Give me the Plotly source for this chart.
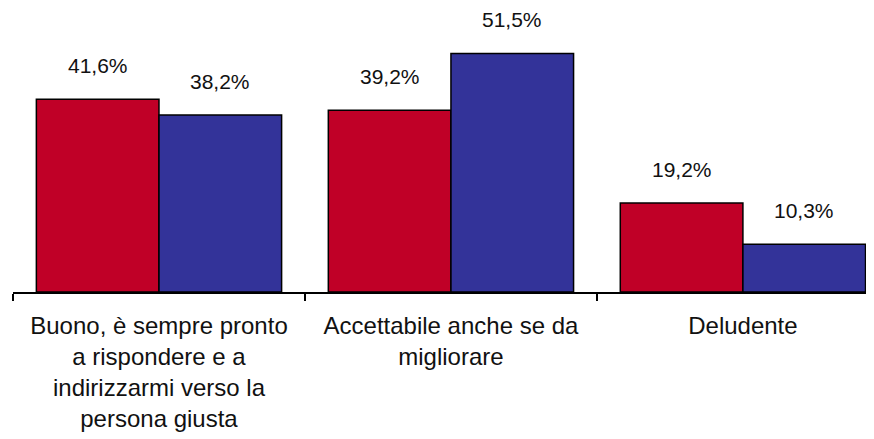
import plotly.graph_objects as go

categories = [
    "Buono, è sempre pronto<br>a rispondere e a<br>indirizzarmi verso la<br>persona giusta",
    "Accettabile anche se da<br>migliorare",
    "Deludente",
]
series_a = [41.6, 39.2, 19.2]
series_b = [38.2, 51.5, 10.3]

RED = "#C00027"
BLUE = "#333399"
FONT = "Liberation Sans, Arial, sans-serif"


def pct(v):
    return f"{v:.1f}%".replace(".", ",")


fig = go.Figure()
for vals, color in ((series_a, RED), (series_b, BLUE)):
    fig.add_trace(go.Bar(
        x=categories, y=vals, marker=dict(color=color, line=dict(color="black", width=1.5)),
        hoverinfo="skip",
    ))

for i, cat in enumerate(categories):
    for vals, shift in ((series_a, -61), (series_b, 61)):
        fig.add_annotation(
            x=cat, y=vals[i], text=pct(vals[i]), showarrow=False,
            xshift=shift, yshift=20, yanchor="bottom",
            font=dict(family=FONT, size=21, color="#111111"),
        )

# page body keeps an 8px default margin, so the figure is drawn 8px smaller
fig.update_layout(
    width=866, height=431,
    margin=dict(l=5, r=0, t=6, b=147),
    paper_bgcolor="white", plot_bgcolor="white",
    barmode="group", bargap=0.16, bargroupgap=0,
    showlegend=False,
    font=dict(family=FONT, size=24, color="#111111"),
    xaxis=dict(
        range=[-0.5, 2.449], showline=True, linecolor="black", linewidth=1.5,
        ticks="outside", tickson="boundaries", ticklen=7, tickwidth=1.5, tickcolor="black",
        tickfont=dict(family=FONT, size=24, color="#111111"), tickangle=0,
        ticklabelstandoff=11, automargin=False,
    ),
    yaxis=dict(range=[0, 60], visible=False),
)

fig.write_html("out.html")
